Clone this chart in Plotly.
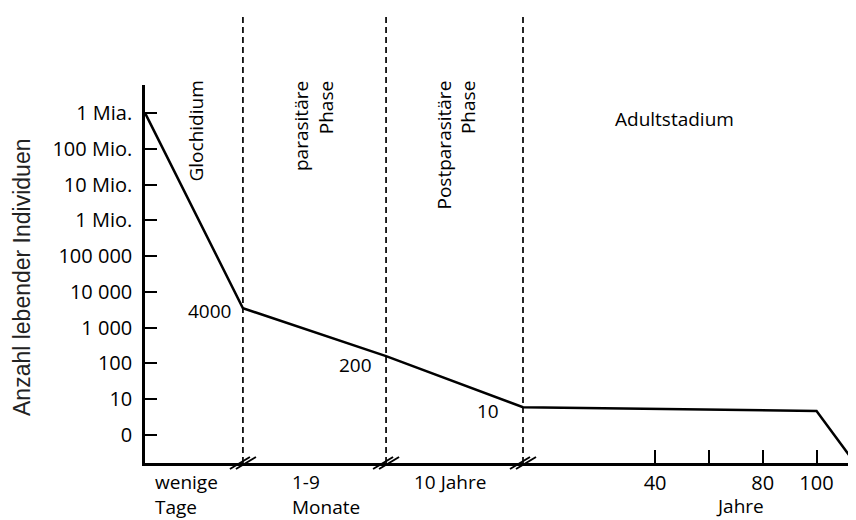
import plotly.graph_objects as go

# ---- data (schematic) ----
# x positions: adult phase in years; earlier phases compressed to the left of year 0
x_start = -149.6
phase_bounds = [-113.2, -60.0, -9.1]          # dashed phase boundaries (axis breaks)
line_x = [-149.6, -113.2, -60.0, -9.1, 100, 114.3]
line_y = [1e9, 3500, 160, 6.0, 4.7, 0.166]    # number of living individuals
y_tickvals = [1, 10, 100, 1e3, 1e4, 1e5, 1e6, 1e7, 1e8, 1e9]
y_ticktext = ["0", "10", "100", "1 000", "10 000", "100 000", "1 Mio.", "10 Mio.", "100 Mio.", "1 Mia."]
x_tickvals = [40, 60, 80, 100]
x_ticktext = ["40", "", "80", "100"]
point_labels = ["4000", "200", "10"]
phase_labels = ["Glochidium", "parasitäre<br>Phase", "Postparasitäre<br>Phase"]
period_labels = ["wenige<br>Tage", "1-9<br>Monate", "10 Jahre"]

OFF = 8  # page body margin
W, H = 856 - OFF, 520 - OFF
# plot area in reference-window pixels: x 145..855, y 85..463
L_REF, R_REF, T_REF, B_REF = 145, 855, 85, 463
ML, MR, MT, MB = L_REF - OFF, W - (R_REF - OFF), T_REF - OFF, H - (B_REF - OFF)
x_range = [x_start, 114.3]
y_range = [-0.78, 9.78]
pw = R_REF - L_REF
ph = B_REF - T_REF


def py2paper(py):
    return (B_REF - py) / ph


def px2paper(px):
    return (px - L_REF) / pw


FONT = "Open Sans"
FS = 19
TFS = 20

fig = go.Figure()
fig.add_trace(go.Scatter(x=line_x, y=line_y, mode="lines",
                         line=dict(color="black", width=2.5), hoverinfo="skip",
                         showlegend=False, cliponaxis=False))

shapes = []
for b in phase_bounds:
    shapes.append(dict(type="line", xref="x", yref="paper", x0=b, x1=b, y0=0,
                       y1=py2paper(13), line=dict(color="black", width=1.7, dash="6px,4px")))
    for dx in (-3, 3):
        shapes.append(dict(type="line", xref="x", yref="paper", xsizemode="pixel",
                           ysizemode="pixel", xanchor=b, yanchor=0,
                           x0=dx - 10, x1=dx + 10, y0=-6, y1=6,
                           line=dict(color="black", width=2)))

annotations = []
# phase labels (rotated)
phase_px = [195, 313, 456]
for lab, px in zip(phase_labels, phase_px):
    annotations.append(dict(text=lab, textangle=-90, xref="paper", yref="paper",
                            x=px2paper(px), y=py2paper(79), xanchor="center", yanchor="top",
                            align="right", showarrow=False,
                            font=dict(family=FONT, size=FS, color="black")))
annotations.append(dict(text="Adultstadium", xref="paper", yref="paper",
                        x=px2paper(674), y=py2paper(119), xanchor="center", yanchor="middle",
                        showarrow=False, font=dict(family=FONT, size=FS, color="black")))
# point labels
annotations.append(dict(text=point_labels[0], xref="paper", yref="paper", x=px2paper(233),
                        y=py2paper(311), xanchor="right", yanchor="middle", showarrow=False,
                        font=dict(family=FONT, size=FS, color="black")))
annotations.append(dict(text=point_labels[1], xref="paper", yref="paper", x=px2paper(355),
                        y=py2paper(365), xanchor="center", yanchor="middle", showarrow=False,
                        font=dict(family=FONT, size=FS, color="black")))
annotations.append(dict(text=point_labels[2], xref="paper", yref="paper", x=px2paper(488),
                        y=py2paper(411), xanchor="center", yanchor="middle", showarrow=False,
                        font=dict(family=FONT, size=FS, color="black")))
# period labels under axis
period_px = [153, 290, 412]
for lab, px in zip(period_labels, period_px):
    annotations.append(dict(text=lab, xref="paper", yref="paper", x=px2paper(px),
                            y=py2paper(467), xanchor="left", yanchor="top", align="left",
                            showarrow=False, font=dict(family=FONT, size=FS, color="black")))
annotations.append(dict(text="Jahre", xref="paper", yref="paper", x=px2paper(740),
                        y=py2paper(506), xanchor="center", yanchor="middle", showarrow=False,
                        font=dict(family=FONT, size=FS, color="black")))
# y title
annotations.append(dict(text="Anzahl lebender Individuen", textangle=-90, xref="paper",
                        yref="paper", x=px2paper(22), y=py2paper(278), xanchor="center",
                        yanchor="middle", showarrow=False,
                        font=dict(family="Liberation Sans, Arial", size=23, color="#222")))

fig.update_layout(
    width=W, height=H, margin=dict(l=ML, r=MR, t=MT, b=MB),
    paper_bgcolor="white", plot_bgcolor="white",
    shapes=shapes, annotations=annotations, showlegend=False,
    xaxis=dict(range=x_range, showgrid=False, zeroline=False, showline=True,
               linecolor="black", linewidth=2.5, ticks="inside", ticklen=13,
               tickwidth=2, tickcolor="black", tickvals=x_tickvals, ticktext=x_ticktext,
               tickfont=dict(family=FONT, size=TFS, color="black")),
    yaxis=dict(type="log", range=y_range, showgrid=False, zeroline=False, showline=True,
               linecolor="black", linewidth=2.5, ticks="inside", ticklen=12,
               tickwidth=2, tickcolor="black", tickvals=y_tickvals, ticktext=y_ticktext,
               tickfont=dict(family=FONT, size=TFS, color="black"), ticklabelstandoff=6),
)

fig.write_html("out.html")
